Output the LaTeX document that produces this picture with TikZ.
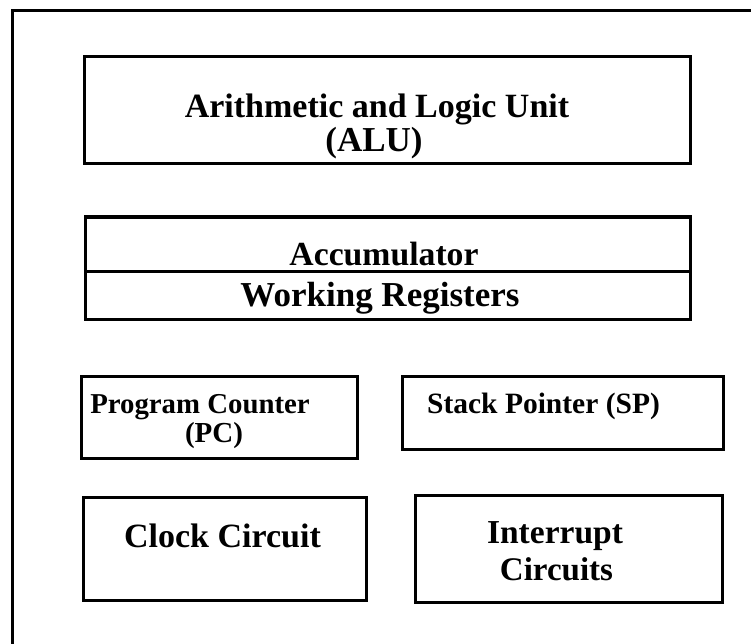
\documentclass[tikz,border=0pt]{standalone}
\usepackage{fontspec}
\setmainfont{Liberation Serif}
\begin{document}
\begin{tikzpicture}[x=1pt,y=-1pt,
  box/.style={draw, line width=3pt, inner sep=0pt, rectangle},
  lbl/.style={inner sep=0pt, anchor=base, align=center}]
\useasboundingbox (0,0) rectangle (751,644);
% outer frame (only left and top edges visible)
\coordinate (fbl) at (12,644);
\coordinate (ftl) at (12,11);
\coordinate (ftr) at (751,11);
\draw[line width=3pt] (fbl) -- (ftl) -- (ftr);
% ALU
\node[box, minimum width=606pt, minimum height=107pt] (alu) at (387,110.5) {};
\node[lbl, font=\bfseries\fontsize{34}{40}\selectfont] (alut1) at (377,118) {Arithmetic and Logic Unit};
\node[lbl, font=\bfseries\fontsize{35}{40}\selectfont] (alut2) at (374,152) {(ALU)};
% Accumulator / Working registers
\node[box, minimum width=605pt, minimum height=54pt] (acc) at (387.5,244) {};
\node[box, minimum width=605pt, minimum height=48pt] (wr) at (387.5,295) {};
\node[lbl, font=\bfseries\fontsize{33.7}{40}\selectfont] (acct) at (384,265) {Accumulator};
\node[lbl, font=\bfseries\fontsize{35}{40}\selectfont] (wrt) at (380,306) {Working Registers};
% PC
\node[box, minimum width=276pt, minimum height=82pt] (pc) at (219,417) {};
\node[lbl, font=\bfseries\fontsize{28.8}{34}\selectfont] (pct1) at (200,413) {Program Counter};
\node[lbl, font=\bfseries\fontsize{29}{34}\selectfont] (pct2) at (214,442) {(PC)};
% SP
\node[box, minimum width=321pt, minimum height=73pt] (sp) at (562.5,412.5) {};
\node[lbl, font=\bfseries\fontsize{29.5}{34}\selectfont] (spt) at (543.5,413) {Stack Pointer (SP)};
% Clock
\node[box, minimum width=283pt, minimum height=103pt] (clk) at (224.5,548.5) {};
\node[lbl, font=\bfseries\fontsize{34}{40}\selectfont] (clkt) at (222.5,547) {Clock Circuit};
% Interrupt
\node[box, minimum width=307pt, minimum height=107pt] (intr) at (568.5,548.5) {};
\node[lbl, font=\bfseries\fontsize{33.5}{40}\selectfont] (intt1) at (555,543) {Interrupt};
\node[lbl, font=\bfseries\fontsize{33}{40}\selectfont] (intt2) at (556.5,580) {Circuits};
\end{tikzpicture}
\end{document}
